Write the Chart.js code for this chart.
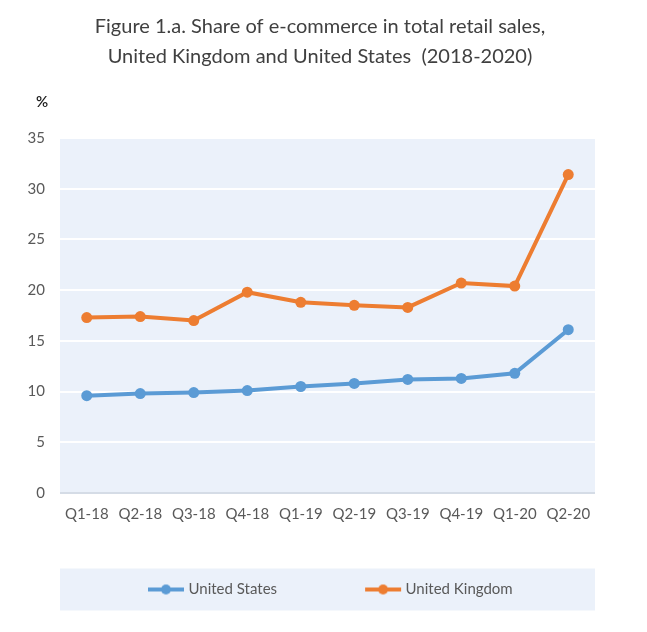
<!DOCTYPE html>
<html>
<head>
<meta charset="utf-8">
<script src="https://cdn.jsdelivr.net/npm/chart.js@4/dist/chart.umd.min.js"></script>
<style>
  html, body { margin: 0; padding: 0; background: #fff; }
  #wrap { width: 647px; height: 632px; }
</style>
</head>
<body>
<div id="wrap"><canvas id="chart"></canvas></div>
<script>
const quarters = ['Q1-18', 'Q2-18', 'Q3-18', 'Q4-18', 'Q1-19', 'Q2-19', 'Q3-19', 'Q4-19', 'Q1-20', 'Q2-20'];
const usShare = [9.6, 9.8, 9.9, 10.1, 10.5, 10.8, 11.2, 11.3, 11.8, 16.1];
const ukShare = [17.3, 17.4, 17.0, 19.8, 18.8, 18.5, 18.3, 20.7, 20.4, 31.4];
const seriesNames = ['United States', 'United Kingdom'];
const seriesColors = ['#5B9BD5', '#ED7D31'];
const titleLines = ['Figure 1.a. Share of e-commerce in total retail sales,', 'United Kingdom and United States  (2018-2020)'];

const panelBg = '#EBF1FA';
const textGray = '#595959';

// line + dot icon for the legend, text sits just right of it
function legendIcon(color) {
    const c = document.createElement('canvas');
    c.width = 80;
    c.height = 12;
    const g = c.getContext('2d');
    g.strokeStyle = color;
    g.lineWidth = 4;
    g.beginPath();
    g.moveTo(43, 6);
    g.lineTo(79, 6);
    g.stroke();
    g.fillStyle = color;
    g.beginPath();
    g.arc(61, 6, 5, 0, Math.PI * 2);
    g.fill();
    return c;
}

const panels = {
    id: 'panels',
    beforeDraw(chart) {
        const { ctx, chartArea, legend } = chart;
        ctx.save();
        ctx.fillStyle = panelBg;
        ctx.fillRect(chartArea.left, chartArea.top, chartArea.right - chartArea.left, chartArea.bottom - chartArea.top);
        const cy = legend.top + 49 + 7.5;
        ctx.fillRect(chartArea.left, cy - 21, chartArea.right - chartArea.left, 42);
        ctx.restore();
    },
    afterDraw(chart) {
        const ctx = chart.ctx;
        ctx.save();
        ctx.fillStyle = '#1a1a1a';
        ctx.font = '600 15px Lato';
        ctx.textAlign = 'center';
        ctx.textBaseline = 'middle';
        ctx.fillText('%', 42, 102);
        ctx.restore();
    }
};

new Chart(document.getElementById('chart'), {
    type: 'line',
    data: {
        labels: quarters,
        datasets: [usShare, ukShare].map((values, i) => ({
            label: seriesNames[i],
            data: values,
            borderColor: seriesColors[i],
            backgroundColor: seriesColors[i],
            borderWidth: 4,
            pointRadius: 5.5,
            pointHoverRadius: 5.5,
            pointBorderWidth: 0,
            tension: 0
        }))
    },
    options: {
        responsive: true,
        maintainAspectRatio: false,
        animation: false,
        layout: { padding: { left: 0, right: 7, top: 0, bottom: 25 } },
        scales: {
            x: {
                offset: true,
                grid: { display: false, drawTicks: false },
                border: { display: false },
                ticks: { color: textGray, font: { family: 'Lato', size: 15 }, padding: 12, maxRotation: 0 },
                afterFit: s => { s.height = 40; }
            },
            y: {
                min: 0,
                max: 35,
                ticks: { stepSize: 5, color: textGray, font: { family: 'Lato', size: 15 }, padding: 15 },
                grid: {
                    drawTicks: false,
                    lineWidth: 2,
                    color: c => c.tick && c.tick.value === 0 ? '#D5DCE6' : '#FFFFFF'
                },
                border: { display: false },
                afterFit: s => { s.width = 60; }
            },
            yRight: {
                position: 'right',
                ticks: { display: false },
                grid: { display: false },
                border: { display: false },
                afterFit: s => { s.width = 45; }
            }
        },
        plugins: {
            title: {
                display: true,
                text: titleLines,
                color: '#404040',
                font: { family: 'Lato', size: 20, weight: 'normal', lineHeight: 1.5 },
                padding: { top: 12, bottom: 66 }
            },
            legend: {
                position: 'bottom',
                align: 'start',
                fullSize: false,
                labels: {
                    usePointStyle: true,
                    pointStyleWidth: 72,
                    padding: 49,
                    color: textGray,
                    font: { family: 'Lato', size: 15 },
                    generateLabels: chart => Chart.defaults.plugins.legend.labels.generateLabels(chart)
                        .map((item, i) => ({ ...item, pointStyle: legendIcon(seriesColors[i]) }))
                }
            },
            tooltip: { enabled: false }
        }
    },
    plugins: [panels]
});
</script>
</body>
</html>
